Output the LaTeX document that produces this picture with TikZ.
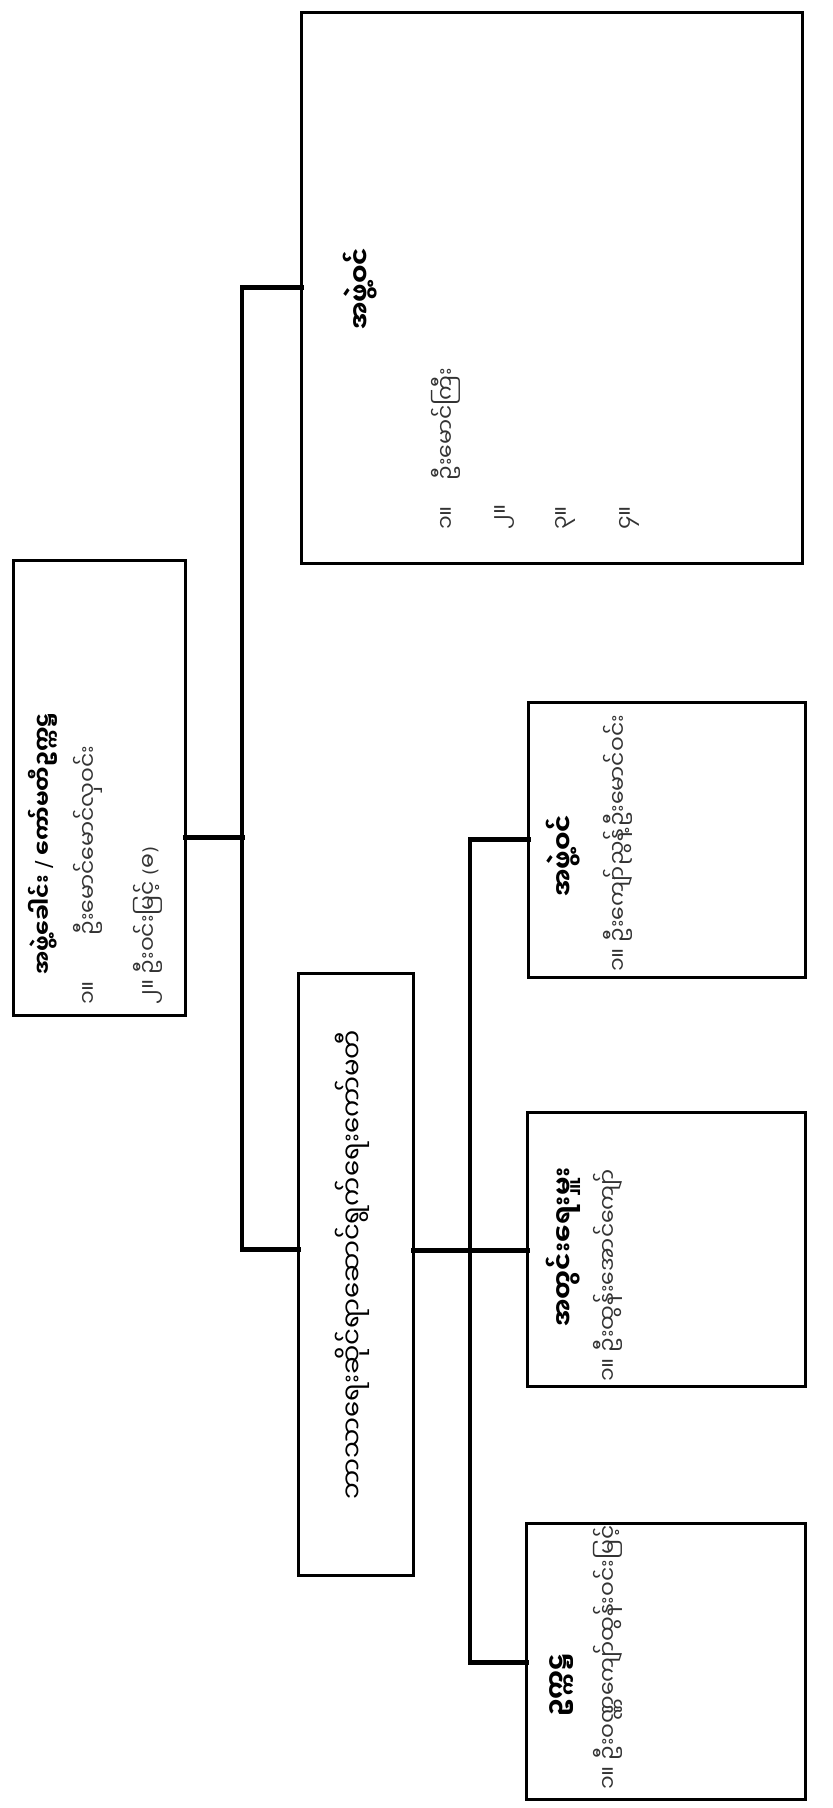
\documentclass[tikz,border=0pt]{standalone}
\usepackage{fontspec}
\newfontfamily\my[Script=Myanmar]{Noto Sans Myanmar UI}
\newfontfamily\djsym{DejaVu Sans}
\begin{document}
\begin{tikzpicture}[x=1pt,y=-1pt,
  box/.style={draw, line width=3pt, inner sep=0pt, outer sep=0pt, anchor=north west},
  conn/.style={line width=3.4pt, line cap=rect},
  stub/.style={line width=5pt, line cap=rect},
  hd/.style={rotate=90, anchor=west, inner sep=0pt, font=\my\bfseries\fontsize{26}{30}\selectfont},
  it/.style={rotate=90, anchor=west, inner sep=0pt, font=\my\fontsize{22}{26}\selectfont, text=black!80}]
\fill[white] (0,0) rectangle (833,1808);
\useasboundingbox (0,0) rectangle (833,1808);

% boxes
\node[box, minimum width=172pt, minimum height=455pt] (root) at (13,560) {};
\node[box, minimum width=501pt, minimum height=551pt] (mem) at (301,12) {};
\node[box, minimum width=115pt, minimum height=602pt] (mid) at (298,973) {};
\node[box, minimum width=277pt, minimum height=275pt] (ba) at (528,702) {};
\node[box, minimum width=278pt, minimum height=274pt] (bb) at (527,1112) {};
\node[box, minimum width=279pt, minimum height=276pt] (bc) at (526,1523) {};

% junctions
\coordinate (j0) at (242,837);
\coordinate (jt) at (242,287);
\coordinate (jb) at (242,1249);
\coordinate (k0) at (470,1250);
\coordinate (kt) at (470,839);
\coordinate (kb) at (470,1662);

\draw[stub] (root.east |- j0) -- (j0);
\draw[conn] (jt) -- (jb);
\draw[stub] (jt) -- (mem.west |- jt);
\draw[stub] (jb) -- (mid.west |- jb);
\draw[stub] (mid.east |- k0) -- (k0);
\draw[conn] (kt) -- (kb);
\draw[stub] (kt) -- (ba.west |- kt);
\draw[stub] (k0) -- (bb.west |- k0);
\draw[stub] (kb) -- (bc.west |- kb);

% root texts
\node[hd, font=\my\bfseries\fontsize{22}{26}\selectfont] (r1) at (43,975) {အဖွဲ့ခေါင်း {\djsym\mdseries /} ကော်မတီဥက္ကဋ္ဌ};
\node[it] (r2) at (88,1005) {၁။ \hspace{40pt}ဦးမောင်မောင်လှဝင်း};
\node[it] (r3) at (148,1005) {၂။ ဦးဝင်းမြင့် {\djsym\fontsize{18}{20}\selectfont(}ဓ{\djsym\fontsize{18}{20}\selectfont)}};

% members (big box)
\node[hd] (m0) at (360,330) {အဖွဲ့ဝင်};
\node[it] (m1) at (446,530) {၁။ \hspace{20pt}ဦးမောင်ကြီး};
\node[it] (m2) at (505,530) {၂။};
\node[it] (m3) at (565,530) {၃။};
\node[it] (m4) at (629,530) {၄။};

% middle
\node[hd, font=\my\fontsize{26}{30}\selectfont] (mt) at (352,1500) {ဘာသာရေးဆိုင်ရာဆောင်ရွက်ရေးကော်မတီ};

% box A
\node[hd] (a0) at (563,897) {အဖွဲ့ဝင်};
\node[it] (a1) at (618,972) {၁။ ဦးကျော်ညွန့်ဦးမောင်ဝင်း};

% box B
\node[hd] (b0) at (563,1327) {အတွင်းရေးမှူး};
\node[it] (b1) at (608,1382) {၁။ ဦးထွန်းအောင်ကျော်};

% box C
\node[hd] (c0) at (562,1717) {ဥက္ကဋ္ဌ};
\node[it] (c1) at (608,1790) {၁။ ဦးဝဏ္ဏကျော်ထွန်းဝင်းမြင့်};
\end{tikzpicture}
\end{document}
